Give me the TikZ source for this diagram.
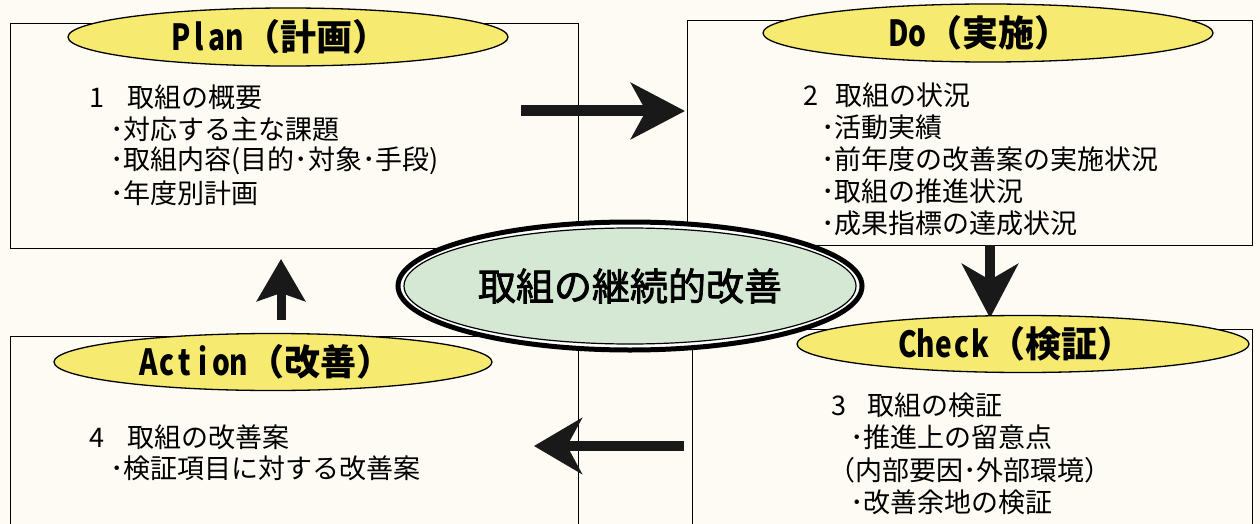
\documentclass[tikz,border=0pt]{standalone}
\usepackage{fontspec}
\usepackage{graphicx}
\setmainfont{Noto Sans CJK JP}
\newfontfamily\corefont{Noto Sans CJK JP}[FakeBold=2]
\usetikzlibrary{arrows.meta,shapes.geometric}
\definecolor{bg}{RGB}{253,251,244}
\definecolor{ylw}{RGB}{246,234,112}
\definecolor{grn}{RGB}{213,232,212}
\newcommand{\hw}[1]{\makebox[0.5em][c]{\scalebox{0.78}[1]{#1}}}
\tikzset{
  pbox/.style={draw=black, line width=1.4pt, fill=bg, anchor=north west, inner sep=0pt},
  tell/.style={ellipse, draw=black, line width=1.3pt, fill=ylw, inner sep=0pt},
  ttext/.style={inner sep=0pt, font=\fontsize{36}{36}\selectfont\bfseries},
  body/.style={anchor=west, inner sep=0pt, font=\fontsize{27}{30}\selectfont},
  blk/.style={draw=black!90, line cap=butt},
}
\begin{document}
\begin{tikzpicture}[x=1pt,y=-1pt]
\useasboundingbox (0,0) rectangle (1260,524);
\fill[bg] (0,0) rectangle (1260,524);
\begin{scope}
\clip (0,0) rectangle (1260,524);
% boxes
\node[pbox, minimum width=568pt, minimum height=225pt] (planbox) at (10,23) {};
\node[pbox, minimum width=565pt, minimum height=225pt] (dobox) at (687,20) {};
\node[pbox, minimum width=560pt, minimum height=240pt] (checkbox) at (692,329) {};
\node[pbox, minimum width=568pt, minimum height=230pt] (actionbox) at (10,336) {};
% arrows
\coordinate (r1) at (521,111); \coordinate (r2) at (685,111);
\coordinate (d1) at (990,245); \coordinate (d2) at (990,318);
\coordinate (l1) at (684,446); \coordinate (l2) at (534,446);
\coordinate (u1) at (281,320); \coordinate (u2) at (281,259);
\draw[blk, line width=11pt, -{Stealth[length=54pt, width=56pt, inset=15pt]}] (r1) -- (r2);
\draw[blk, line width=10pt, -{Stealth[length=54pt, width=56pt, inset=16pt]}] (d1) -- (d2);
\draw[blk, line width=10pt, -{Stealth[length=48pt, width=56pt, inset=15pt]}] (l1) -- (l2);
\draw[blk, line width=9pt, -{Stealth[length=42pt, width=48pt, inset=8pt]}] (u1) -- (u2);
% title ellipses
\node[tell, minimum width=440pt, minimum height=58pt] (plant) at (288,37) {};
\node[ttext] (planlbl) at (280,37) {\hw{P}\hw{l}\hw{a}\hw{n}（計画）};
\node[tell, minimum width=450pt, minimum height=58pt] (dot) at (988,33) {};
\node[ttext] (dolbl) at (980,33) {\hw{D}\hw{o}（実施）};
\node[tell, minimum width=452pt, minimum height=57pt] (checkt) at (1023,344) {};
\node[ttext] (checklbl) at (1016,344) {\hw{C}\hw{h}\hw{e}\hw{c}\hw{k}（検証）};
\node[tell, minimum width=438pt, minimum height=57pt] (actiont) at (273,362) {};
\node[ttext] (actionlbl) at (266,362) {\hw{A}\hw{c}\hw{t}\hw{i}\hw{o}\hw{n}（改善）};
% body texts
\node[body] (p1) at (89,97) {\makebox[38pt][l]{1}取組の概要};
\node[body] (p2) at (110,129) {･対応する主な課題};
\node[body] (p3) at (110,161) {･取組内容(目的･対象･手段)};
\node[body] (p4) at (110,193) {･年度別計画};
\node[body] (q1) at (803,95) {\makebox[32pt][l]{2}取組の状況};
\node[body] (q2) at (821,127) {･活動実績};
\node[body] (q3) at (821,159) {･前年度の改善案の実施状況};
\node[body] (q4) at (821,191) {･取組の推進状況};
\node[body] (q5) at (821,223) {･成果指標の達成状況};
\node[body] (c1) at (831,405) {\makebox[36pt][l]{3}取組の検証};
\node[body] (c2) at (850,437) {･推進上の留意点};
\node[body] (c3) at (828,470) {（内部要因･外部環境）};
\node[body] (c4) at (850,502) {･改善余地の検証};
\node[body] (a1) at (89,437) {\makebox[38pt][l]{4}取組の改善案};
\node[body] (a2) at (110,468) {･検証項目に対する改善案};
% central ellipse
\fill[white] (630,286) ellipse [x radius=234, y radius=66];
\draw[line width=5pt] (630,286) ellipse [x radius=232, y radius=64];
\node[ellipse, draw=black, line width=1.2pt, fill=grn, inner sep=0pt,
  minimum width=452pt, minimum height=116pt] (core) at (630,286) {};
\node[font=\fontsize{38}{38}\corefont, inner sep=0pt] (coretext) at (core.center) {取組の継続的改善};
\end{scope}
\end{tikzpicture}
\end{document}
